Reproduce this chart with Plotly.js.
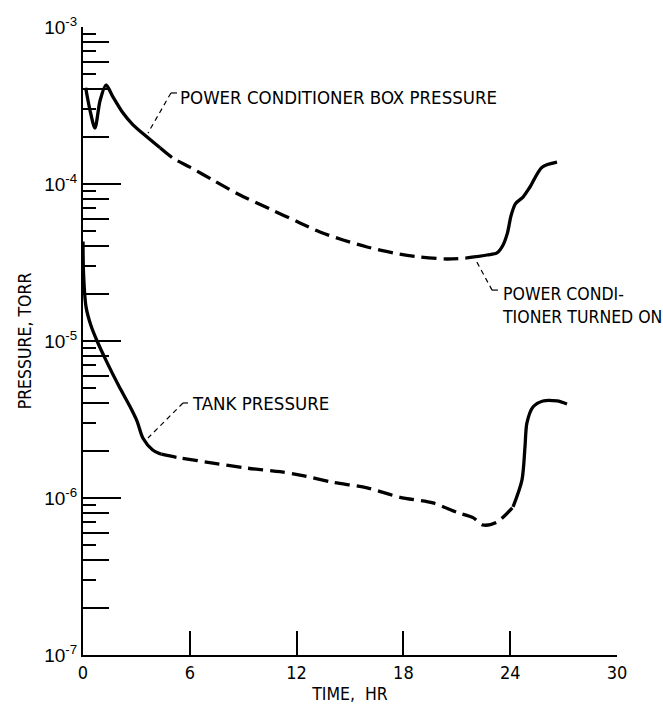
<!DOCTYPE html>
<html>
<head>
<meta charset="utf-8">
<script src="https://cdn.plot.ly/plotly-3.0.1.min.js"></script>
<style>html,body{margin:0;padding:0;background:#fff;}#chart{width:663px;height:705px;}</style>
</head>
<body>
<div id="chart"></div>
<script>
// ---- data ----
const boxTime = [0.15, 0.39, 0.67, 0.96, 1.29, 1.69, 2.25, 2.81, 3.60, 4.33, 5.06, 6.01, 7.30, 8.82, 10.5, 12.19, 13.31, 14.61, 15.96, 17.42, 18.93, 20.45, 21.57, 22.70, 23.26, 23.60, 23.85, 24.05, 24.30, 24.72, 25.11, 25.79, 26.63];
const boxPressure = [4.1e-4, 2.96e-4, 2.27e-4, 3.4e-4, 4.27e-4, 3.58e-4, 2.83e-4, 2.38e-4, 1.99e-4, 1.70e-4, 1.46e-4, 1.28e-4, 1.06e-4, 8.5e-5, 6.93e-5, 5.65e-5, 4.95e-5, 4.4e-5, 3.97e-5, 3.64e-5, 3.43e-5, 3.33e-5, 3.38e-5, 3.53e-5, 3.64e-5, 4.09e-5, 4.9e-5, 6.3e-5, 7.5e-5, 8.26e-5, 9.57e-5, 1.28e-4, 1.38e-4];
const tankTime = [0, 0.03, 0.17, 0.45, 0.79, 1.3, 2.0, 2.6, 3.03, 3.37, 3.9, 4.4, 5.45, 7.3, 9.21, 11.07, 12.19, 14.04, 15.96, 17.81, 19.66, 21.01, 21.91, 22.47, 23.26, 24.16, 24.66, 24.83, 24.94, 25.28, 25.84, 26.63, 27.19];
const tankPressure = [4.3e-5, 2.7e-5, 1.65e-5, 1.25e-5, 1.0e-5, 7.5e-6, 5.2e-6, 3.9e-6, 3.1e-6, 2.4e-6, 2.03e-6, 1.9e-6, 1.8e-6, 1.67e-6, 1.55e-6, 1.47e-6, 1.40e-6, 1.26e-6, 1.16e-6, 1.01e-6, 9.3e-7, 8.1e-7, 7.5e-7, 6.73e-7, 7.03e-7, 8.77e-7, 1.3e-6, 2.11e-6, 3.01e-6, 3.8e-6, 4.15e-6, 4.15e-6, 3.97e-6];
const xTicks = [0, 6, 12, 18, 24, 30];
const yDecades = [1e-7, 1e-6, 1e-5, 1e-4, 1e-3];
const yTickText = ['10<sup>-7</sup>', '10<sup>-6</sup>', '10<sup>-5</sup>', '10<sup>-4</sup>', '10<sup>-3</sup>'];
const boxLabel = 'POWER CONDITIONER BOX PRESSURE';
const tankLabel = 'TANK PRESSURE';
const onLabel = 'POWER CONDI-<br>TIONER TURNED ON';

// segment boundaries (index into the arrays) where the drawn line changes style
const boxSeg = [0, 9, 22, boxTime.length - 1];
const tankSeg = [0, 11, 25, tankTime.length - 1];

const NARROW = '"Liberation Sans Narrow", "DejaVu Sans Condensed", "Liberation Sans", sans-serif';
const REG = '"Liberation Sans", Arial, sans-serif';
const DASH = '15px,7px';

function segTraces(t, p, seg) {
  const styles = ['solid', DASH, 'solid'];
  const out = [];
  for (let i = 0; i < 3; i++) {
    out.push({
      x: t.slice(seg[i], seg[i + 1] + 1),
      y: p.slice(seg[i], seg[i + 1] + 1),
      type: 'scatter', mode: 'lines',
      line: {color: '#000', width: 3.3, dash: styles[i], shape: 'spline', smoothing: 0.8},
      showlegend: false, hoverinfo: 'skip'
    });
  }
  return out;
}

const minorEven = [], minorOdd = [];
for (let d = 0; d < 4; d++) {
  const base = yDecades[d];
  [2, 4, 6, 8].forEach(k => minorEven.push(k * base));
  [3, 5, 7, 9].forEach(k => minorOdd.push(k * base));
}

const traces = [].concat(
  segTraces(boxTime, boxPressure, boxSeg),
  segTraces(tankTime, tankPressure, tankSeg),
  [{x: [], y: [], yaxis: 'y2', type: 'scatter', showlegend: false},
   {x: [], y: [], yaxis: 'y3', type: 'scatter', showlegend: false}]
);

const leader = {color: '#000', width: 1.2, dash: '5px,4px'};
const leaderSolid = {color: '#000', width: 1.2};

const minorAxis = (vals, len) => ({
  type: 'log', range: [-7, -3], overlaying: 'y', anchor: 'x', side: 'left',
  tickmode: 'array', tickvals: vals, ticks: 'inside', ticklen: len, tickwidth: 2, tickcolor: '#000',
  showticklabels: false, showline: false, showgrid: false, zeroline: false
});

const layout = {
  width: 663, height: 705,
  margin: {l: 83, r: 46, t: 27, b: 50},
  paper_bgcolor: '#fff', plot_bgcolor: '#fff',
  showlegend: false,
  xaxis: {
    range: [0, 30], tickmode: 'array', tickvals: xTicks, ticktext: xTicks.map(String),
    ticks: 'inside', ticklen: 24, tickwidth: 2, tickcolor: '#000',
    showline: true, linewidth: 2, linecolor: '#000', mirror: false,
    showgrid: false, zeroline: false,
    tickfont: {family: NARROW, size: 18, color: '#000'},
    title: {text: 'TIME,  HR', font: {family: NARROW, size: 17.5, color: '#000'}, standoff: 6}
  },
  yaxis: {
    type: 'log', range: [-7, -3], tickmode: 'array', tickvals: yDecades, ticktext: yTickText,
    ticks: 'inside', ticklen: 38, tickwidth: 2, tickcolor: '#000',
    showline: true, linewidth: 2, linecolor: '#000',
    showgrid: false, zeroline: false,
    tickfont: {family: REG, size: 19, color: '#000'},
    title: {text: 'PRESSURE, TORR', font: {family: NARROW, size: 17.5, color: '#000'}, standoff: 8}
  },
  yaxis2: minorAxis(minorEven, 26),
  yaxis3: minorAxis(minorOdd, 13),
  annotations: [
    {x: 5.34, y: -3.446, xref: 'x', yref: 'y', text: boxLabel, showarrow: false, xanchor: 'left', yanchor: 'middle',
     font: {family: NARROW, size: 18.5, color: '#000'}},
    {x: 6.01, y: -5.401, xref: 'x', yref: 'y', text: tankLabel, showarrow: false, xanchor: 'left', yanchor: 'middle',
     font: {family: NARROW, size: 18.5, color: '#000'}},
    {x: 23.43, y: -4.774, xref: 'x', yref: 'y', text: onLabel, showarrow: false, xanchor: 'left', yanchor: 'middle', align: 'left',
     font: {family: NARROW, size: 17.5, color: '#000'}}
  ],
  shapes: [
    {type: 'line', xref: 'x', yref: 'y', x0: 5.28, y0: 3.8e-4, x1: 4.94, y1: 3.8e-4, line: leaderSolid},
    {type: 'line', xref: 'x', yref: 'y', x0: 4.94, y0: 3.8e-4, x1: 3.65, y1: 2.11e-4, line: leader},
    {type: 'line', xref: 'x', yref: 'y', x0: 5.9, y0: 4.03e-6, x1: 5.62, y1: 4.03e-6, line: leaderSolid},
    {type: 'line', xref: 'x', yref: 'y', x0: 5.62, y0: 4.03e-6, x1: 3.65, y1: 2.41e-6, line: leader},
    {type: 'line', xref: 'x', yref: 'y', x0: 22.13, y0: 3.18e-5, x1: 22.98, y1: 2.11e-5, line: leader},
    {type: 'line', xref: 'x', yref: 'y', x0: 22.98, y0: 2.11e-5, x1: 23.31, y1: 2.11e-5, line: leaderSolid}
  ]
};

Plotly.newPlot('chart', traces, layout, {staticPlot: true, displayModeBar: false});
</script>
</body>
</html>
